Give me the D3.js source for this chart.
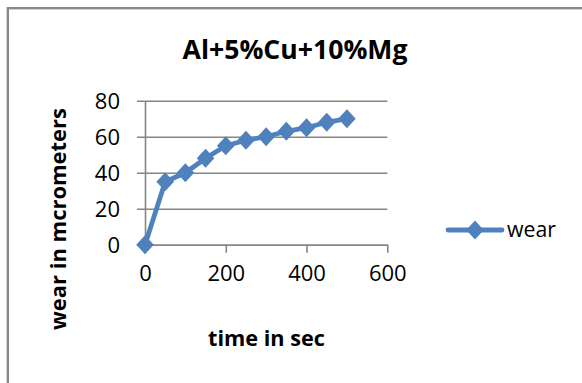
<!DOCTYPE html>
<html><head><meta charset="utf-8">
<script src="https://cdn.jsdelivr.net/npm/d3@7"></script>
<style>
html,body{margin:0;padding:0;background:#fff;}
svg{display:block;}
text{font-family:"Open Sans",sans-serif;fill:#000;}
</style></head>
<body>
<svg id="c" width="582" height="383"></svg>
<script>
const title = "Al+5%Cu+10%Mg";
const seriesName = "wear";
const xTitle = "time in sec";
const yTitle = "wear in mcrometers";
const times = [0, 50, 100, 150, 200, 250, 300, 350, 400, 450, 500];
const wear = [0, 35, 40, 48, 55, 58, 60, 63, 65, 68, 70];
const xTicks = [0, 200, 400, 600];
const yTicks = [0, 20, 40, 60, 80];

const svg = d3.select("#c");
const color = "#4F81BD";
const gridColor = "#868686";

// chart border
svg.append("rect").attr("x", 7.8).attr("y", 8.2).attr("width", 700).attr("height", 500)
  .attr("fill", "none").attr("stroke", "#8a8a8a").attr("stroke-width", 2.4);

const L = 145, R = 387.3, T = 100.7, B = 244.7;
const x = d3.scaleLinear().domain([0, 600]).range([L, R]);
const y = d3.scaleLinear().domain([0, 80]).range([B, T]);

function fit(sel, target, size) {
  sel.style("font-size", size + "px");
  const w = sel.node().getComputedTextLength();
  sel.style("font-size", (size * target / w).toFixed(2) + "px");
}

// y axis with gridlines
const ya = svg.append("g").attr("transform", `translate(${L},0)`)
  .call(d3.axisLeft(y).tickValues(yTicks).tickSizeInner(8).tickSizeOuter(0).tickPadding(17));
ya.select(".domain").attr("stroke", gridColor).attr("stroke-width", 1.6);
ya.selectAll(".tick line").attr("x1", -8).attr("x2", R - L).attr("stroke", gridColor).attr("stroke-width", 1.6);
ya.selectAll(".tick text").attr("font-family", "Open Sans").style("font-size", "22px").attr("fill", "#000").attr("dy", "0.36em");

// x axis
const xa = svg.append("g").attr("transform", `translate(0,${B})`)
  .call(d3.axisBottom(x).tickValues(xTicks).tickSizeInner(8).tickSizeOuter(0).tickPadding(13));
xa.select(".domain").attr("stroke", gridColor).attr("stroke-width", 1.6);
xa.selectAll(".tick line").attr("stroke", gridColor).attr("stroke-width", 1.6);
xa.selectAll(".tick text").attr("font-family", "Open Sans").style("font-size", "22px").attr("fill", "#000");

// series
const data = times.map((t, i) => ({t, v: wear[i]}));
svg.append("path").datum(data)
  .attr("fill", "none").attr("stroke", color).attr("stroke-width", 4.8).attr("stroke-linejoin", "round")
  .attr("d", d3.line().x(d => x(d.t)).y(d => y(d.v)));
const diamond = "M0,-9.5L8.8,0L0,9.5L-8.8,0Z";
svg.selectAll(".m").data(data).join("path").attr("class", "m")
  .attr("transform", d => `translate(${x(d.t)},${y(d.v)})`)
  .attr("d", diamond).attr("fill", color);

// title
const tt = svg.append("text").attr("x", 295).attr("y", 59).attr("text-anchor", "middle")
  .attr("font-weight", "bold").text(title);
fit(tt, 225, 24);

// axis titles
const xt = svg.append("text").attr("x", 266.5).attr("y", 346).attr("text-anchor", "middle")
  .attr("font-weight", "bold").text(xTitle);
fit(xt, 117, 17);
const yt = svg.append("text").attr("transform", "translate(66,219) rotate(-90)").attr("text-anchor", "middle")
  .attr("font-weight", "bold").text(yTitle);
fit(yt, 222, 17);

// legend
const lg = svg.append("g");
lg.append("line").attr("x1", 448).attr("x2", 502).attr("y1", 230).attr("y2", 230)
  .attr("stroke", color).attr("stroke-width", 4.8).attr("stroke-linecap", "round");
lg.append("path").attr("transform", "translate(475,230)").attr("d", diamond).attr("fill", color);
const lt = lg.append("text").attr("x", 507).attr("y", 237).text(seriesName);
fit(lt, 49, 20);
</script>
</body></html>
